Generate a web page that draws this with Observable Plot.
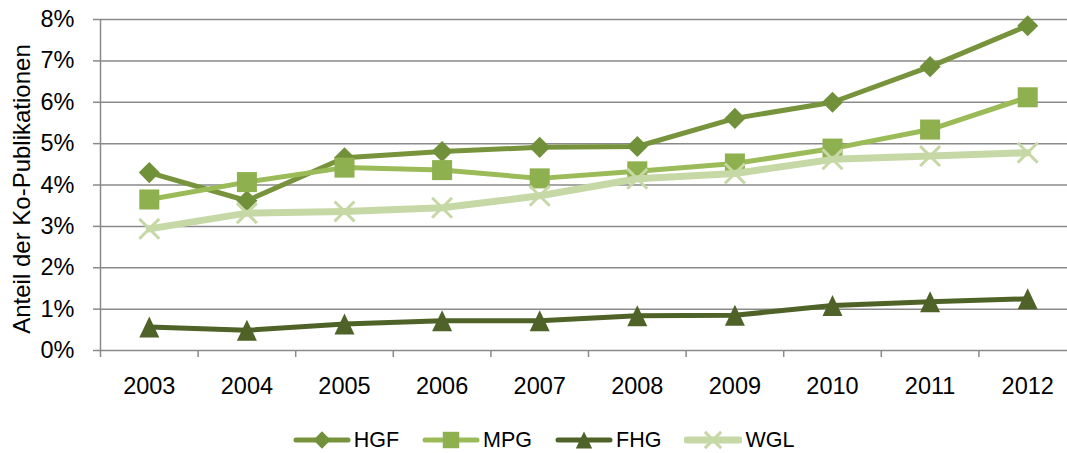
<!DOCTYPE html>
<html>
<head>
<meta charset="utf-8">
<script src="https://cdn.jsdelivr.net/npm/d3@7"></script>
<script src="https://cdn.jsdelivr.net/npm/@observablehq/plot@0.6"></script>
<style>
  html, body { margin: 0; padding: 0; background: #fff; }
  body { width: 1067px; height: 453px; position: relative; overflow: hidden; font-family: "Liberation Sans", Arial, sans-serif; }
  #legend { position: absolute; left: 10px; top: 427px; width: 1067px; display: flex; justify-content: center; gap: 23px; font-size: 21.5px; line-height: 26px; color: #000; }
  .item { display: flex; align-items: center; }
  .item svg { margin-right: 3px; display: block; }
</style>
</head>
<body>
<div id="chart"></div>
<div id="legend"></div>
<script>
const years = [2003, 2004, 2005, 2006, 2007, 2008, 2009, 2010, 2011, 2012];
const hgf = [4.30, 3.62, 4.66, 4.81, 4.91, 4.93, 5.61, 6.00, 6.86, 7.85];
const mpg = [3.65, 4.07, 4.42, 4.36, 4.16, 4.33, 4.52, 4.88, 5.34, 6.12];
const fhg = [0.57, 0.49, 0.64, 0.72, 0.72, 0.84, 0.85, 1.09, 1.18, 1.25];
const wgl = [2.94, 3.32, 3.36, 3.45, 3.74, 4.15, 4.28, 4.62, 4.70, 4.78];
const seriesNames = ["HGF", "MPG", "FHG", "WGL"];
const yTicks = [0, 0.01, 0.02, 0.03, 0.04, 0.05, 0.06, 0.07, 0.08];
const yLabel = "Anteil der Ko-Publikationen";

// Excel-like triangle marker (slightly taller than equilateral), centred on its box
const triangleSym = {
  draw(ctx, size) {
    const r = Math.sqrt(size / Math.PI);
    ctx.moveTo(0, -1.05 * r);
    ctx.lineTo(r, 1.05 * r);
    ctx.lineTo(-r, 1.05 * r);
    ctx.closePath();
  }
};
const symMap = {diamond2: d3.symbolDiamond2, square: d3.symbolSquare, triangle: triangleSym, times: d3.symbolTimes};

const styles = {
  HGF: {color: "#77933C", symbol: "diamond2", r: 9.5, width: 5, mfill: "#71903A", mstroke: "none", msw: 0},
  MPG: {color: "#9BBB59", symbol: "square", r: 11.3, width: 5, mfill: "#8EB04E", mstroke: "none", msw: 0},
  FHG: {color: "#4F6228", symbol: "triangle", r: 10, width: 5, mfill: "#4F6228", mstroke: "none", msw: 0},
  WGL: {color: "#C6D8A6", symbol: "times", r: 9.1, width: 7, mfill: "none", mstroke: "#C6D8A6", msw: 3}
};
const values = {HGF: hgf, MPG: mpg, FHG: fhg, WGL: wgl};
const data = seriesNames.flatMap(s => years.map((y, i) => ({series: s, year: y, value: values[s][i] / 100})));
const boundaries = d3.range(years.length + 1).map(i => years[0] - 0.5 + i);

const marks = [
  Plot.ruleY(yTicks, {y: d => d, stroke: "#8A8A8A", strokeWidth: 1.5}),
  Plot.ruleX([boundaries[0]], {x: d => d, stroke: "#8A8A8A", strokeWidth: 1.5}),
  Plot.axisY({ticks: yTicks, tickSize: 7, tickFormat: () => "", stroke: "#8A8A8A", strokeWidth: 1.5, label: null}),
  Plot.axisY({ticks: yTicks, tickSize: 0, tickPadding: 26, tickFormat: d3.format(".0%"), fill: "#000", fontSize: 23.5, label: null}),
  Plot.axisX({ticks: boundaries, tickSize: 7, tickFormat: () => "", stroke: "#8A8A8A", strokeWidth: 1.5, label: null}),
  Plot.axisX({ticks: years, tickSize: 0, tickPadding: 27, tickFormat: d => String(d), fill: "#000", fontSize: 23.5, label: null}),
  Plot.text([yLabel], {frameAnchor: "left", text: d => d, rotate: -90, dx: -78, dy: 4, fontSize: 24, fill: "#000", textAnchor: "middle"})
];
for (const s of seriesNames) {
  const st = styles[s];
  const d = data.filter(e => e.series === s);
  marks.push(Plot.line(d, {x: "year", y: "value", stroke: st.color, strokeWidth: st.width}));
  marks.push(Plot.dot(d, {x: "year", y: "value", symbol: () => symMap[st.symbol], r: st.r, fill: st.mfill, stroke: st.mstroke, strokeWidth: st.msw}));
}

const chart = Plot.plot({
  width: 1067,
  height: 410,
  marginTop: 19,
  marginBottom: 60,
  marginLeft: 100,
  marginRight: 0,
  style: {fontFamily: "'Liberation Sans', Arial, sans-serif", fontSize: "23.5px", color: "#000", background: "#fff"},
  x: {type: "linear", domain: [boundaries[0], boundaries[boundaries.length - 1]], range: [100, 1076]},
  y: {type: "linear", domain: [0, 0.08], range: [350, 19]},
  symbol: {type: "identity"},
  marks
});
document.getElementById("chart").appendChild(chart);

// Legend
const legend = document.getElementById("legend");
for (const s of seriesNames) {
  const st = styles[s];
  const item = document.createElement("div");
  item.className = "item";
  const svg = d3.create("svg").attr("width", 58).attr("height", 26);
  svg.append("line").attr("x1", 3).attr("x2", 55).attr("y1", 13).attr("y2", 13)
    .attr("stroke", st.color).attr("stroke-width", st.width).attr("stroke-linecap", "round");
  const rr = st.r * 0.82;
  svg.append("path").attr("transform", "translate(29,13)")
    .attr("d", d3.symbol(symMap[st.symbol], Math.PI * rr * rr)())
    .attr("fill", st.mfill).attr("stroke", st.mstroke).attr("stroke-width", st.msw);
  item.appendChild(svg.node());
  const t = document.createElement("span");
  t.textContent = s;
  item.appendChild(t);
  legend.appendChild(item);
}
</script>
</body>
</html>
